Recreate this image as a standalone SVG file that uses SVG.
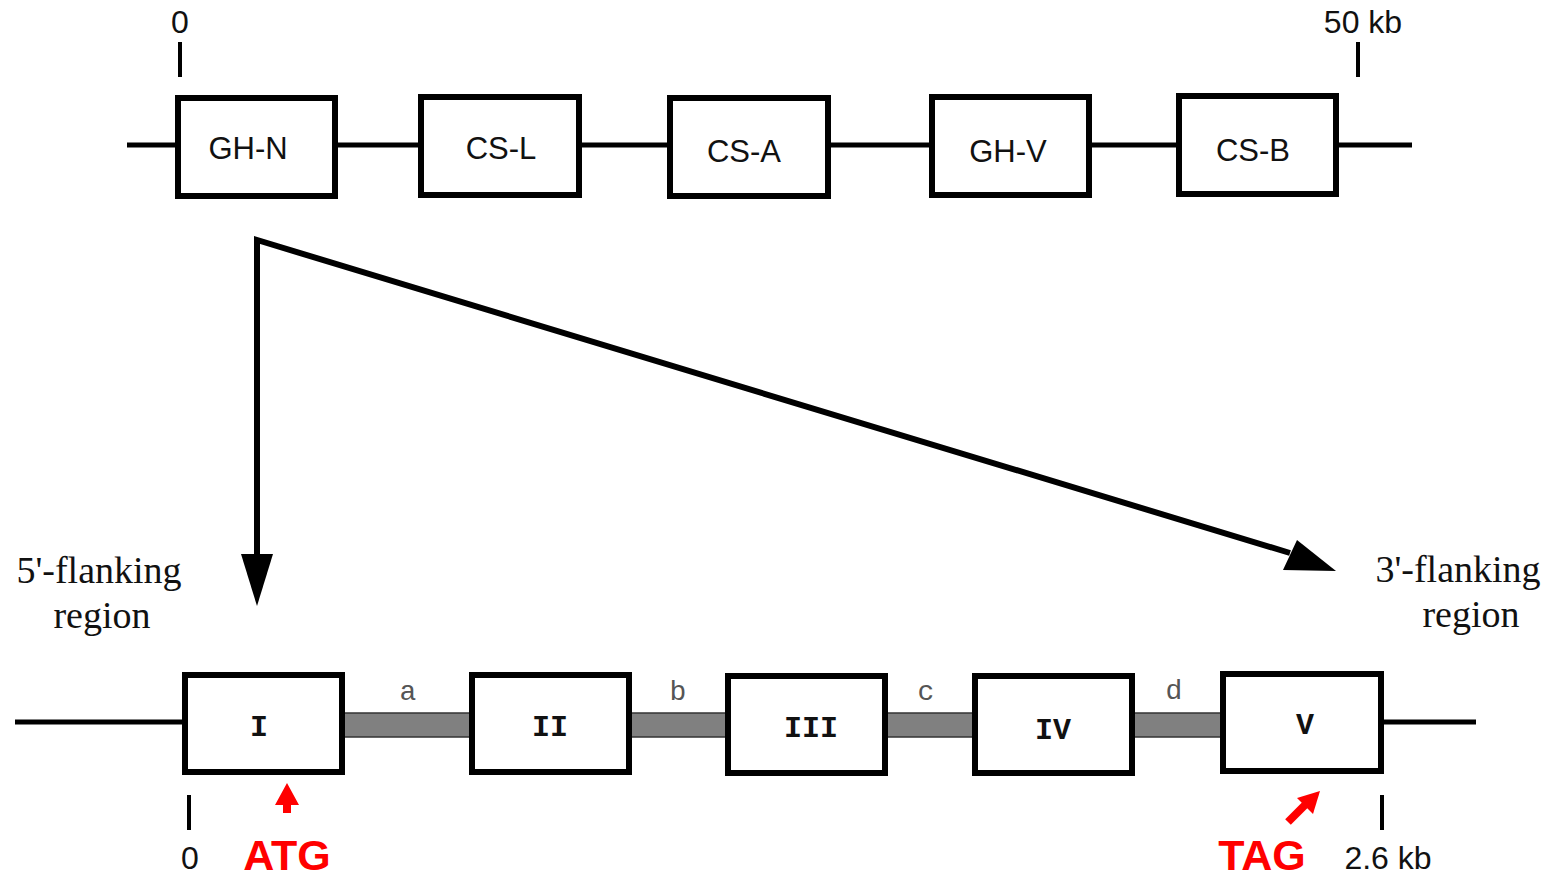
<svg xmlns="http://www.w3.org/2000/svg" width="1558" height="877" viewBox="0 0 1558 877">
<style>
.box{fill:#fff;stroke:#000;stroke-width:6}
.ln{stroke:#000;stroke-width:5;fill:none}
.tick{stroke:#000;stroke-width:4}
.gene{font-family:"Liberation Sans",Arial,sans-serif;font-size:31px;fill:#111;text-anchor:middle}
.scale{font-family:"Liberation Sans",Arial,sans-serif;font-size:32px;fill:#111;text-anchor:middle}
.ex{font-family:"Liberation Mono","Courier New",monospace;font-weight:bold;font-size:30px;fill:#111;text-anchor:middle}
.intr{font-family:"Liberation Mono","Courier New",monospace;font-size:28px;fill:#555;text-anchor:middle}
.fl{font-family:"Liberation Serif","Times New Roman",serif;font-size:38px;fill:#111;text-anchor:middle}
.red{font-family:"Liberation Sans",Arial,sans-serif;font-weight:bold;font-size:43px;fill:#f00;text-anchor:middle}
.bar{fill:#808080;stroke:#333;stroke-width:1.5}
</style>
<rect width="1558" height="877" fill="#fff"/>
<g id="connectors">
<line class="ln" x1="127" y1="145" x2="1412" y2="145"/>
<line class="ln" x1="15" y1="722" x2="1476" y2="722"/>
<polyline points="257,560 257,240 1290,553" fill="none" stroke="#000" stroke-width="6"/>
<path d="M241,554 L273,554 L257,606 Z" fill="#000"/>
<path d="M1283,570 L1297,540 L1336,571 Z" fill="#000"/>
<rect class="bar" x="343" y="713" width="128" height="24"/>
<rect class="bar" x="630" y="713" width="97" height="24"/>
<rect class="bar" x="886" y="713" width="88" height="24"/>
<rect class="bar" x="1133" y="713" width="89" height="24"/>
</g>
<g id="scale-top">
<line class="tick" x1="180" y1="42" x2="180" y2="77"/>
<text class="scale" x="180" y="33">0</text>
<line class="tick" x1="1358" y1="42" x2="1358" y2="77"/>
<text class="scale" x="1363" y="33">50 kb</text>
</g>
<g id="GH-N"><rect class="box" x="178" y="98" width="157" height="98"/><text class="gene" x="248" y="159">GH-N</text></g>
<g id="CS-L"><rect class="box" x="421" y="97" width="158" height="98"/><text class="gene" x="501" y="159">CS-L</text></g>
<g id="CS-A"><rect class="box" x="670" y="98" width="158" height="98"/><text class="gene" x="744" y="162">CS-A</text></g>
<g id="GH-V"><rect class="box" x="932" y="97" width="157" height="98"/><text class="gene" x="1008" y="162">GH-V</text></g>
<g id="CS-B"><rect class="box" x="1179" y="96" width="157" height="98"/><text class="gene" x="1253" y="161">CS-B</text></g>
<g id="flank5"><text class="fl" x="99" y="583">5'-flanking</text><text class="fl" x="102" y="628">region</text></g>
<g id="flank3"><text class="fl" x="1458" y="582">3'-flanking</text><text class="fl" x="1471" y="627">region</text></g>
<g id="exon-I"><rect class="box" x="185" y="675" width="157" height="97"/><text class="ex" x="259" y="736">I</text></g>
<g id="exon-II"><rect class="box" x="472" y="675" width="157" height="97"/><text class="ex" x="550" y="736">II</text></g>
<g id="exon-III"><rect class="box" x="728" y="676" width="157" height="97"/><text class="ex" x="811" y="737">III</text></g>
<g id="exon-IV"><rect class="box" x="975" y="676" width="157" height="97"/><text class="ex" x="1053" y="739">IV</text></g>
<g id="exon-V"><rect class="box" x="1223" y="674" width="158" height="97"/><text class="ex" x="1305" y="734">V</text></g>
<g id="introns">
<text class="intr" x="408" y="700">a</text>
<text class="intr" x="678" y="700">b</text>
<text class="intr" x="926" y="700">c</text>
<text class="intr" x="1174" y="699">d</text>
</g>
<g id="scale-bottom">
<line class="tick" x1="189" y1="795" x2="189" y2="830"/>
<text class="scale" x="190" y="869">0</text>
<line class="tick" x1="1382" y1="795" x2="1382" y2="830"/>
<text class="scale" x="1388" y="869">2.6 kb</text>
</g>
<g id="ATG">
<path d="M275,805 L287,783 L299,805 L291,805 L291,813 L283,813 L283,805 Z" fill="#f00"/>
<text class="red" x="287" y="870">ATG</text>
</g>
<g id="TAG">
<line x1="1288" y1="822" x2="1308" y2="802" stroke="#f00" stroke-width="8"/>
<path d="M1320,791 L1313,814 L1297,798 Z" fill="#f00"/>
<text class="red" x="1262" y="870">TAG</text>
</g>
</svg>
